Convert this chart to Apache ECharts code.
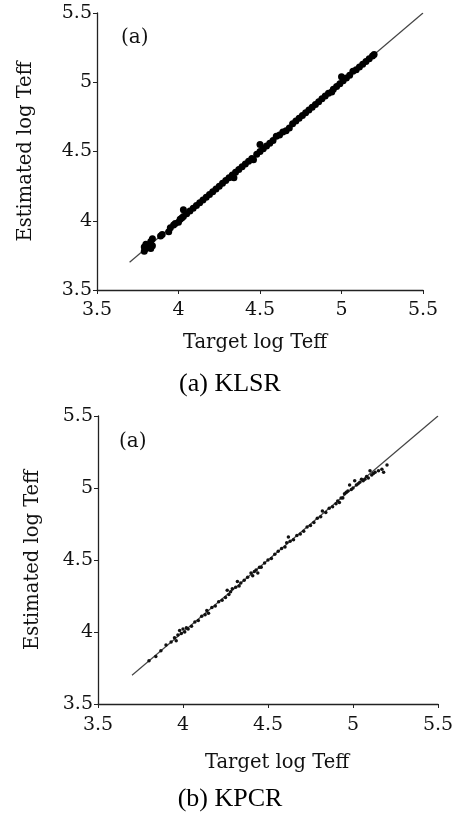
<!DOCTYPE html>
<html>
<head>
<meta charset="utf-8">
<script src="https://cdn.jsdelivr.net/npm/echarts@6/dist/echarts.min.js"></script>
<style>
  html, body { margin: 0; padding: 0; background: #fff; }
  #chart { width: 460px; height: 816px; }
</style>
</head>
<body>
<div id="chart"></div>
<script>
// KLSR estimates (top panel)
const klsrX = [3.79,3.79,3.80,3.80,3.83,3.83,3.84,3.84,3.89,3.90,3.94,3.95,3.97,3.98,4.00,4.01,4.02,4.03,4.03,4.05,4.07,4.09,4.11,4.13,4.15,4.17,4.19,4.21,4.23,4.25,4.27,4.29,4.31,4.33,4.34,4.35,4.37,4.39,4.41,4.43,4.45,4.46,4.48,4.50,4.50,4.52,4.54,4.56,4.58,4.60,4.62,4.64,4.66,4.68,4.70,4.72,4.74,4.76,4.78,4.80,4.82,4.84,4.86,4.88,4.90,4.92,4.94,4.95,4.97,4.99,5.00,5.01,5.03,5.05,5.07,5.09,5.11,5.13,5.15,5.17,5.19,5.20];
const klsrY = [3.78,3.81,3.80,3.83,3.80,3.85,3.82,3.87,3.89,3.90,3.92,3.95,3.97,3.98,3.99,4.01,4.02,4.08,4.03,4.05,4.07,4.09,4.11,4.13,4.15,4.17,4.19,4.21,4.23,4.25,4.27,4.29,4.31,4.33,4.31,4.35,4.37,4.39,4.41,4.43,4.45,4.44,4.48,4.50,4.55,4.52,4.54,4.56,4.58,4.61,4.62,4.64,4.65,4.67,4.70,4.72,4.74,4.76,4.78,4.80,4.82,4.84,4.86,4.88,4.90,4.92,4.93,4.95,4.97,4.99,5.04,5.01,5.03,5.05,5.08,5.09,5.11,5.13,5.15,5.17,5.19,5.20];

// KPCR estimates (bottom panel)
const kpcrX = [3.80,3.84,3.87,3.90,3.93,3.95,3.96,3.97,3.98,3.99,4.00,4.01,4.02,4.03,4.05,4.07,4.09,4.11,4.13,4.14,4.15,4.17,4.19,4.21,4.23,4.25,4.26,4.27,4.28,4.29,4.31,4.32,4.33,4.34,4.36,4.38,4.40,4.41,4.42,4.43,4.44,4.45,4.46,4.48,4.50,4.52,4.54,4.56,4.58,4.60,4.61,4.62,4.63,4.65,4.67,4.69,4.71,4.73,4.75,4.77,4.79,4.81,4.82,4.84,4.86,4.88,4.90,4.91,4.92,4.93,4.94,4.95,4.96,4.97,4.98,4.99,5.00,5.01,5.02,5.03,5.04,5.05,5.06,5.07,5.08,5.09,5.10,5.11,5.12,5.13,5.15,5.17,5.18,5.20];
const kpcrY = [3.80,3.83,3.87,3.91,3.93,3.96,3.94,3.98,4.01,3.99,4.02,4.00,4.03,4.02,4.04,4.07,4.08,4.11,4.12,4.15,4.13,4.17,4.18,4.21,4.22,4.24,4.29,4.26,4.28,4.30,4.31,4.35,4.32,4.34,4.36,4.38,4.41,4.39,4.42,4.43,4.41,4.45,4.45,4.48,4.50,4.51,4.54,4.56,4.58,4.59,4.62,4.66,4.63,4.64,4.67,4.68,4.70,4.73,4.74,4.76,4.79,4.80,4.84,4.83,4.86,4.87,4.89,4.91,4.90,4.93,4.93,4.96,4.97,4.98,5.02,4.99,5.00,5.05,5.02,5.03,5.04,5.06,5.05,5.06,5.08,5.07,5.12,5.09,5.10,5.11,5.12,5.13,5.11,5.16];

// y = x reference line
const refLine = [3.7, 5.5];

const axisMin = 3.5;
const axisMax = 5.5;
const tickStep = 0.5;

const serif = '"DejaVu Serif", serif';

function pairs(xs, ys) {
  return xs.map((x, i) => [x, ys[i]]);
}

function makeXAxis(gridIndex, nameGap, namePad, labelMargin) {
  return {
    gridIndex: gridIndex,
    type: 'value',
    min: axisMin, max: axisMax, interval: tickStep,
    name: 'Target log Teff',
    nameLocation: 'middle',
    nameGap: nameGap,
    nameTextStyle: {fontFamily: serif, fontSize: 19.5, color: '#111', padding: namePad},
    axisLine: {show: true, lineStyle: {color: '#222', width: 1.3}},
    axisTick: {show: true, inside: false, length: 4, lineStyle: {color: '#222'}},
    axisLabel: {fontFamily: serif, fontSize: 19, color: '#111', margin: labelMargin,
      formatter: v => String(Number(v.toFixed(1)))},
    splitLine: {show: false}
  };
}

function makeYAxis(gridIndex, nameGap) {
  return {
    gridIndex: gridIndex,
    type: 'value',
    min: axisMin, max: axisMax, interval: tickStep,
    name: 'Estimated log Teff',
    nameLocation: 'middle',
    nameGap: nameGap,
    nameTextStyle: {fontFamily: serif, fontSize: 19.5, color: '#111'},
    axisLine: {show: true, lineStyle: {color: '#222', width: 1.3}},
    axisTick: {show: true, inside: false, length: 4, lineStyle: {color: '#222'}},
    axisLabel: {fontFamily: serif, fontSize: 19, color: '#111', margin: 5,
      formatter: v => String(Number(v.toFixed(1)))},
    splitLine: {show: false}
  };
}

const myChart = echarts.init(document.getElementById('chart'), null, {renderer: 'canvas'});

const option = {
  backgroundColor: '#fff',
  animation: false,
  title: [
    {text: '(a)', left: 116, top: 23, textStyle: {fontFamily: serif, fontSize: 20, fontWeight: 'normal', color: '#111'}},
    {text: '(a)', left: 114, top: 427, textStyle: {fontFamily: serif, fontSize: 20, fontWeight: 'normal', color: '#111'}},
    {text: '(a) KLSR', left: 'center', top: 366, textStyle: {fontFamily: '"Liberation Serif", serif', fontSize: 26, fontWeight: 'normal', color: '#000'}},
    {text: '(b) KPCR', left: 'center', top: 781, textStyle: {fontFamily: '"Liberation Serif", serif', fontSize: 26, fontWeight: 'normal', color: '#000'}}
  ],
  grid: [
    {left: 97, top: 13, width: 326, height: 277},
    {left: 98, top: 416, width: 340, height: 288}
  ],
  xAxis: [makeXAxis(0, 43, [0, 10, 0, 0], 11), makeXAxis(1, 49, [0, 0, 0, 18], 12)],
  yAxis: [makeYAxis(0, 61), makeYAxis(1, 55)],
  series: [
    {
      type: 'line', xAxisIndex: 0, yAxisIndex: 0,
      data: [[refLine[0], refLine[0]], [refLine[1], refLine[1]]],
      symbol: 'none', lineStyle: {color: '#444', width: 1.2}, z: 1
    },
    {
      type: 'scatter', xAxisIndex: 0, yAxisIndex: 0,
      data: pairs(klsrX, klsrY),
      symbolSize: 7,
      itemStyle: {color: '#000', opacity: 1}, z: 2
    },
    {
      type: 'line', xAxisIndex: 1, yAxisIndex: 1,
      data: [[refLine[0], refLine[0]], [refLine[1], refLine[1]]],
      symbol: 'none', lineStyle: {color: '#444', width: 1.2}, z: 1
    },
    {
      type: 'scatter', xAxisIndex: 1, yAxisIndex: 1,
      data: pairs(kpcrX, kpcrY),
      symbolSize: 3.5,
      itemStyle: {color: '#111', opacity: 1}, z: 2
    }
  ]
};

myChart.setOption(option);
window.addEventListener('resize', () => myChart.resize());
</script>
</body>
</html>
